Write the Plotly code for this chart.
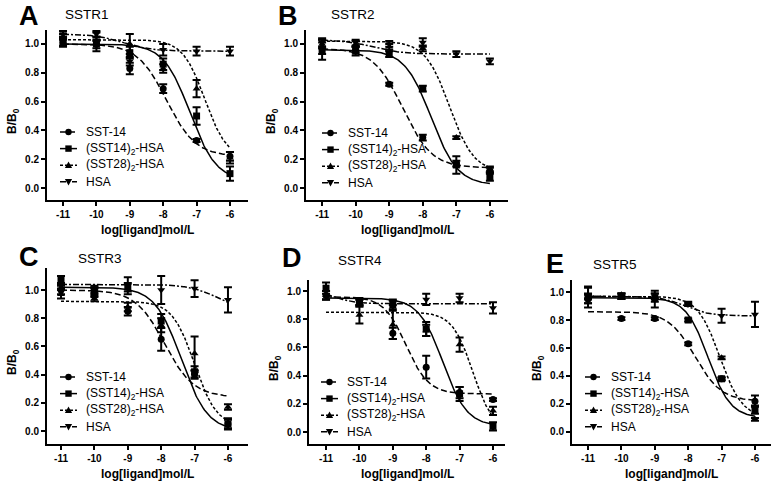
import numpy as np
import plotly.graph_objects as go

W, H = 773, 484
X_LOG = [-11, -10, -9, -8, -7, -6]
PANELS = ["A", "B", "C", "D", "E"]
RECEPTORS = ["SSTR1", "SSTR2", "SSTR3", "SSTR4", "SSTR5"]
SERIES = ["SST-14", "(SST14)<sub>2</sub>-HSA", "(SST28)<sub>2</sub>-HSA", "HSA"]

# mean B/B0 per panel (rows A..E), columns at X_LOG
SST14_MEAN = [[1.01, 1.00, 0.83, 0.69, 0.33, 0.22],
              [0.97, 0.96, 0.72, 0.35, 0.17, 0.12],
              [1.00, 0.98, 0.85, 0.65, 0.40, 0.05],
              [0.97, 0.92, 0.70, 0.46, 0.28, 0.23],
              [0.95, 0.81, 0.81, 0.63, 0.38, 0.22]]
SST14_ERR = [[0.03, 0.03, 0.04, 0.03, 0.01, 0.03],
             [0.04, 0.02, 0.01, 0.02, 0.02, 0.02],
             [0.03, 0.03, 0.03, 0.08, 0.03, 0.03],
             [0.03, 0.02, 0.04, 0.08, 0.04, 0.01],
             [0.03, 0.01, 0.01, 0.01, 0.01, 0.04]]
DSST14_MEAN = [[1.02, 1.00, 0.94, 0.86, 0.50, 0.10],
               [0.96, 0.95, 0.93, 0.69, 0.16, 0.08],
               [1.07, 1.00, 1.02, 0.78, 0.42, 0.05],
               [1.02, 0.92, 0.90, 0.73, 0.27, 0.04],
               [0.96, 0.97, 0.96, 0.80, 0.38, 0.16]]
DSST14_ERR = [[0.03, 0.05, 0.04, 0.04, 0.06, 0.05],
              [0.07, 0.03, 0.02, 0.02, 0.06, 0.03],
              [0.03, 0.03, 0.03, 0.05, 0.04, 0.04],
              [0.04, 0.03, 0.03, 0.05, 0.05, 0.03],
              [0.07, 0.02, 0.03, 0.01, 0.01, 0.03]]
DSST28_MEAN = [[1.05, 1.05, 1.00, 0.83, 0.69, 0.21],
               [1.00, 1.00, 0.98, 0.97, 0.35, 0.13],
               [0.97, 0.94, 0.88, 0.75, 0.55, 0.17],
               [0.97, 0.83, 0.76, 0.72, 0.62, 0.15],
               [0.97, 0.98, 0.97, 0.91, 0.53, 0.09]]
DSST28_ERR = [[0.02, 0.03, 0.07, 0.03, 0.06, 0.04],
              [0.03, 0.02, 0.02, 0.02, 0.01, 0.02],
              [0.03, 0.02, 0.03, 0.05, 0.12, 0.02],
              [0.03, 0.06, 0.10, 0.04, 0.05, 0.03],
              [0.02, 0.01, 0.02, 0.01, 0.01, 0.01]]
HSA_MEAN = [[1.07, 1.07, 0.88, 0.96, 0.95, 0.95],
            [1.01, 1.01, 1.00, 1.01, 0.93, 0.88],
            [1.03, 1.00, 1.03, 1.00, 1.01, 0.93],
            [0.97, 0.92, 0.92, 0.94, 0.95, 0.88],
            [0.98, 0.97, 0.95, 0.92, 0.83, 0.84]]
HSA_ERR = [[0.02, 0.02, 0.03, 0.04, 0.03, 0.03],
           [0.03, 0.02, 0.02, 0.03, 0.02, 0.02],
           [0.02, 0.02, 0.06, 0.10, 0.06, 0.09],
           [0.03, 0.02, 0.02, 0.04, 0.03, 0.04],
           [0.06, 0.02, 0.06, 0.01, 0.05, 0.09]]

# fitted four-parameter logistic curves: [top, bottom, logIC50, hill]
SST14_FIT = [[1.00, 0.22, -7.90, 1.0], [0.97, 0.14, -8.60, 1.0], [1.00, 0.24, -7.90, 1.0],
             [0.96, 0.27, -8.60, 1.3], [0.86, 0.22, -7.80, 1.1]]
DSST14_FIT = [[1.00, 0.05, -7.20, 1.1], [0.96, 0.02, -7.75, 1.1], [1.02, 0.00, -7.40, 1.1],
              [0.95, 0.04, -7.50, 1.2], [0.96, 0.10, -7.40, 1.3]]
DSST28_FIT = [[1.03, 0.20, -6.75, 1.3], [1.02, 0.11, -7.20, 1.2], [0.92, 0.03, -7.00, 1.3],
              [0.85, 0.00, -6.60, 1.4], [0.97, 0.10, -7.05, 1.3]]
HSA_FIT = [[1.07, 0.95, -9.20, 1.0], [1.03, 0.93, -9.50, 1.0], [1.04, 0.85, -6.30, 1.0],
           [1.00, 0.91, -10.7, 1.5], [0.97, 0.83, -8.10, 1.2]]

Y_TICKS = [0.0, 0.2, 0.4, 0.6, 0.8, 1.0]

MEANS = [SST14_MEAN, DSST14_MEAN, DSST28_MEAN, HSA_MEAN]
ERRS = [SST14_ERR, DSST14_ERR, DSST28_ERR, HSA_ERR]
FITS = [SST14_FIT, DSST14_FIT, DSST28_FIT, HSA_FIT]
SYMBOLS = ["circle", "square", "triangle-up", "triangle-down"]
DASHES = ["6px,3px", "solid", "3px,2px", "6px,2px,2px,2px"]

# panel boxes in pixels: (left, right, top, bottom), x range, y range
BOX = [(47, 248, 30, 200), (306, 508, 30, 200), (47, 248, 268, 444),
       (309, 505, 280, 444), (572, 771, 280, 444)]
XR = [(-11.48, -5.46), (-11.48, -5.46), (-11.42, -5.40), (-11.51, -5.64), (-11.48, -5.52)]
YR = [(-0.083, 1.097), (-0.083, 1.097), (-0.092, 1.156), (-0.085, 1.078), (-0.086, 1.086)]
LEG = [(85, 132), (347, 133), (85, 377), (346, 382), (610, 377)]   # text start x, first row y
LETTER = [(17, 16), (276, 16), (17, 257), (280, 258), (544, 264)]
TITLE = [(63, 15), (329, 15), (76, 258), (336, 260), (591, 264)]
ROW = 16.6

FONT = "Arial, 'Liberation Sans', sans-serif"


def px(x):
    return x / W


def py(y):
    return 1 - y / H


fig = go.Figure()
xs = np.linspace(-11, -6, 200)
shapes = []

for p in range(5):
    sfx = "" if p == 0 else str(p + 1)
    xa, ya = "x" + sfx, "y" + sfx
    for s in range(4):
        top, bot, ic50, hill = FITS[s][p]
        fit_y = bot + (top - bot) / (1 + 10 ** ((xs - ic50) * hill))
        fig.add_trace(go.Scatter(x=xs, y=fit_y, mode="lines", xaxis=xa, yaxis=ya,
                                 line=dict(color="black", width=1.5, dash=DASHES[s]),
                                 showlegend=False, hoverinfo="skip"))
        fig.add_trace(go.Scatter(x=X_LOG, y=MEANS[s][p], mode="markers", xaxis=xa, yaxis=ya,
                                 name=SERIES[s],
                                 marker=dict(symbol=SYMBOLS[s], color="black", size=7),
                                 error_y=dict(type="data", array=ERRS[s][p], color="black",
                                              thickness=2, width=4),
                                 showlegend=False))
    l, r, t, b = BOX[p]
    axstyle = dict(showline=True, linecolor="black", linewidth=2, ticks="outside",
                   ticklen=4, tickwidth=2, tickcolor="black", showgrid=False, zeroline=False,
                   tickfont=dict(family=FONT, size=10, color="black", weight="bold"))
    fig.layout["xaxis" + sfx] = dict(domain=[l / W, r / W], range=list(XR[p]),
                                     anchor=ya, tickvals=X_LOG,
                                     ticktext=[str(v) for v in X_LOG], **axstyle)
    fig.layout["yaxis" + sfx] = dict(domain=[1 - b / H, 1 - t / H], range=list(YR[p]),
                                     anchor=xa, tickvals=Y_TICKS,
                                     ticktext=["%.1f" % v for v in Y_TICKS], **axstyle)
    # manual legend inside panel
    tx, ty = LEG[p]
    for s in range(4):
        yy = ty + s * ROW
        shapes.append(dict(type="line", xref="paper", yref="paper",
                           x0=px(tx - 25), x1=px(tx - 8), y0=py(yy), y1=py(yy),
                           line=dict(color="black", width=1.5, dash=DASHES[s])))
        cx = tx - 16.5
        if s == 0:
            shapes.append(dict(type="circle", xref="paper", yref="paper",
                               x0=px(cx - 3.2), x1=px(cx + 3.2), y0=py(yy + 3.2), y1=py(yy - 3.2),
                               fillcolor="black", line=dict(width=0)))
        elif s == 1:
            shapes.append(dict(type="rect", xref="paper", yref="paper",
                               x0=px(cx - 3.2), x1=px(cx + 3.2), y0=py(yy + 3.2), y1=py(yy - 3.2),
                               fillcolor="black", line=dict(width=0)))
        else:
            d = -1 if s == 2 else 1
            path = "M %f %f L %f %f L %f %f Z" % (
                px(cx - 3.6), py(yy - d * 2.8), px(cx + 3.6), py(yy - d * 2.8),
                px(cx), py(yy + d * 3.6))
            shapes.append(dict(type="path", xref="paper", yref="paper", path=path,
                               fillcolor="black", line=dict(width=0)))
        fig.add_annotation(x=px(tx - 1), y=py(yy), xref="paper", yref="paper",
                           text=SERIES[s], showarrow=False, xanchor="left", yanchor="middle",
                           font=dict(family=FONT, size=12, color="black"))
    # panel letter and receptor title
    fig.add_annotation(x=px(LETTER[p][0]), y=py(LETTER[p][1]), xref="paper", yref="paper",
                       text="<b>%s</b>" % PANELS[p], showarrow=False, xanchor="left",
                       yanchor="middle", font=dict(family=FONT, size=27, color="black"))
    fig.add_annotation(x=px(TITLE[p][0]), y=py(TITLE[p][1]), xref="paper", yref="paper",
                       text=RECEPTORS[p], showarrow=False, xanchor="left", yanchor="middle",
                       font=dict(family=FONT, size=13.5, color="black"))
    # axis titles
    fig.add_annotation(x=px(l - 34), y=py((t + b) / 2 + 6), xref="paper", yref="paper",
                       text="<b>B/B<sub>0</sub></b>", showarrow=False, textangle=-90,
                       xanchor="center", yanchor="middle",
                       font=dict(family=FONT, size=12, color="black"))
    fig.add_annotation(x=px((l + r) / 2), y=py(b + 30), xref="paper", yref="paper",
                       text="<b>log[ligand]mol/L</b>", showarrow=False,
                       xanchor="center", yanchor="middle",
                       font=dict(family=FONT, size=12, color="black"))

fig.update_layout(width=W, height=H, margin=dict(l=0, r=0, t=0, b=0),
                  paper_bgcolor="white", plot_bgcolor="white", showlegend=False,
                  shapes=shapes)
fig.write_html("out.html", config={"displayModeBar": False},
               post_script="document.body.style.margin='0px';")
